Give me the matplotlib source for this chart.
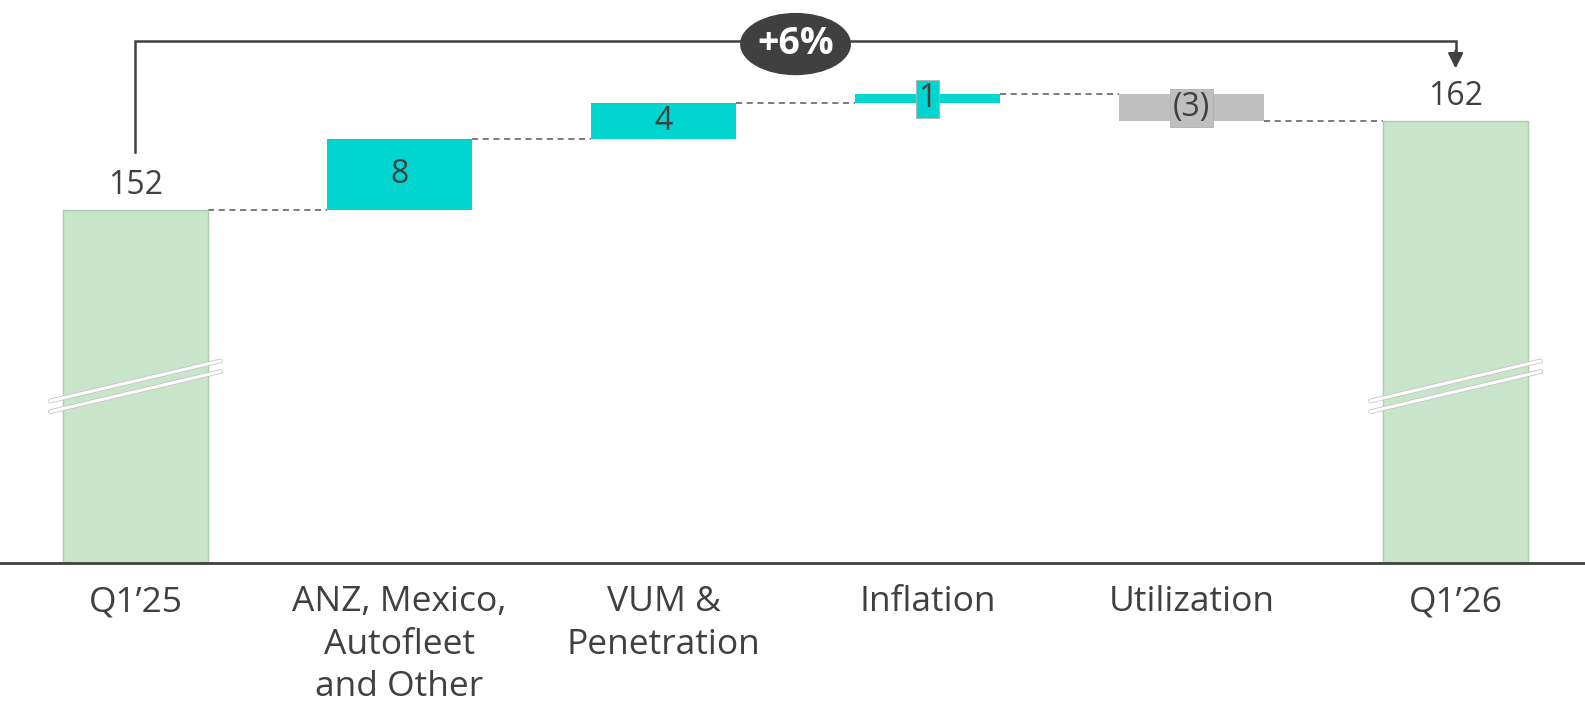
import matplotlib
matplotlib.use("Agg")
import matplotlib.pyplot as plt
from matplotlib.patches import Ellipse
import matplotlib.patheffects as pe

# ---- data ----
categories = ["Q1\u201925", "ANZ, Mexico,\nAutofleet\nand Other", "VUM &\nPenetration",
              "Inflation", "Utilization", "Q1\u201926"]
start_value = 152
changes = [8, 4, 1, -3]
end_value = 162
change_labels = ["8", "4", "1", "(3)"]
growth_label = "+6%"

# ---- style ----
TXT = "#404040"
GREEN = "#C9E5C9"
GREEN_EDGE = "#A9CFA9"
CYAN = "#00D6CF"
GREY = "#BFBFBF"
FONT = ["Open Sans", "DejaVu Sans"]
plt.rcParams['font.family'] = FONT
FS = 23
FS_TICK = 25.5

fig = plt.figure(figsize=(15.85, 7.02), dpi=100)
ax = fig.add_axes([0, 1 - 563 / 702, 1, 563 / 702])
ymin, ymax = 112.34, 175.6
ax.set_ylim(ymin, ymax)
ax.set_xlim(-0.513, 5.49)
W = 0.55

xs = list(range(len(categories)))

# total bars
for x, v in ((xs[0], start_value), (xs[-1], end_value)):
    ax.bar(x, v - ymin, bottom=ymin, width=W, color=GREEN, edgecolor=GREEN_EDGE, linewidth=1, zorder=2)
    ax.text(x, v + 2.8, str(v), ha="center", va="center", fontsize=FS, color=TXT)

# change bars
levels = [start_value]
for c in changes:
    levels.append(levels[-1] + c)
for i, c in enumerate(changes):
    x = xs[i + 1]
    lo, hi = min(levels[i], levels[i + 1]), max(levels[i], levels[i + 1])
    col = CYAN if c > 0 else GREY
    ax.bar(x, hi - lo, bottom=lo, width=W, color=col, edgecolor="none", zorder=2)
    mid = (lo + hi) / 2
    if i >= 2:
        ax.text(x, mid, change_labels[i], ha="center", va="center", fontsize=FS, color=TXT, zorder=4,
                bbox=dict(boxstyle="square,pad=0.08", facecolor=col, edgecolor="#b0b0b0", linewidth=0.6))
    else:
        ax.text(x, mid, change_labels[i], ha="center", va="center", fontsize=FS, color=TXT, zorder=4)

# dashed connectors
for i in range(len(xs) - 1):
    lvl = levels[i] if i < len(levels) - 1 else end_value
    if i == 3:
        lvl = max(levels[3], levels[4])
    ax.plot([xs[i] + W / 2, xs[i + 1] - W / 2], [lvl, lvl], color="#595959", lw=1.1,
            linestyle=(0, (4, 3)), zorder=1)

# break marks on total bars
for x in (xs[0], xs[-1]):
    for off in (0.0, -1.2):
        ax.plot([x - 0.322, x + 0.322], [130.55 + off, 135.05 + off], color="white", lw=2.2,
                solid_capstyle="round", zorder=3,
                path_effects=[pe.Stroke(linewidth=3.4, foreground="#c4c4c4"), pe.Normal()])

# growth bracket
ytop = 171.0
ax.plot([xs[0], xs[0], xs[-1], xs[-1]], [start_value + 6.5, ytop, ytop, end_value + 7.5],
        color=TXT, lw=1.8, zorder=3, solid_joinstyle="miter")
ax.annotate("", xy=(xs[-1], end_value + 5.9), xytext=(xs[-1], end_value + 7.9),
            arrowprops=dict(arrowstyle="-|>,head_length=0.9,head_width=0.45", color=TXT, lw=1.8,
                            shrinkA=0, shrinkB=0), zorder=3)
cx = (xs[0] + xs[-1]) / 2
ax.add_patch(Ellipse((cx, ytop - 0.35), 0.42, 7.0, facecolor=TXT, edgecolor="none", zorder=4))
ax.text(cx, ytop - 0.3, growth_label, ha="center", va="center", fontsize=27, color="white",
        fontweight="bold", zorder=5)

# axes
for s in ("top", "right", "left"):
    ax.spines[s].set_visible(False)
ax.spines["bottom"].set_color(TXT)
ax.spines["bottom"].set_linewidth(2)
ax.set_yticks([])
ax.set_xticks(xs)
ax.set_xticklabels(categories, fontsize=FS_TICK, color=TXT, linespacing=1.33)
ax.tick_params(axis="x", length=0, pad=16)

fig.savefig("out.png", dpi=100)
